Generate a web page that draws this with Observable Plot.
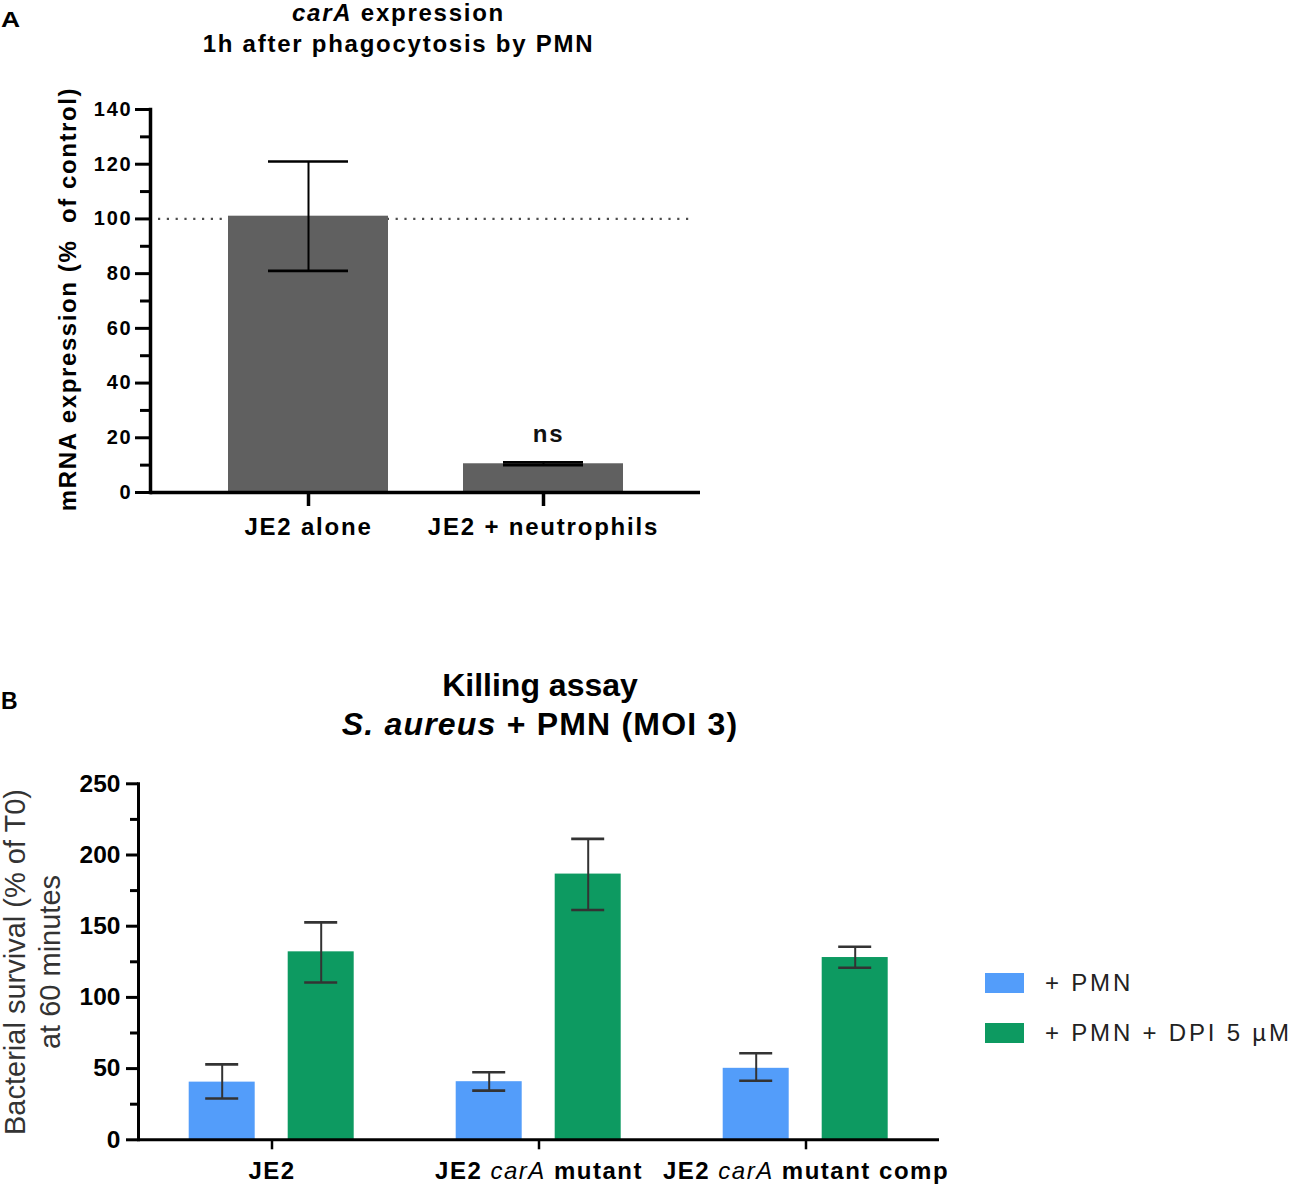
<!DOCTYPE html>
<html>
<head>
<meta charset="utf-8">
<script src="https://cdn.jsdelivr.net/npm/d3@7"></script>
<script src="https://cdn.jsdelivr.net/npm/@observablehq/plot@0.6"></script>
<style>
  body { margin: 0; background: #fff; }
  #root { position: relative; width: 1297px; height: 1185px; overflow: hidden;
          font-family: "Liberation Sans", Arial, sans-serif; color: #000; background: #fff; }
  .abs { position: absolute; }
  .panelA-title { left: 0; width: 797px; text-align: center; font-weight: bold; font-size: 24px;
                  line-height: 31px; letter-spacing: 1.75px; top: -2.8px; }
  .panelB-title { left: 190px; width: 700px; text-align: center; font-weight: bold; font-size: 32px;
                  line-height: 39px; top: 666.4px; }
  .panelB-title .l2 { letter-spacing: 1.2px; }
  .letter { font-weight: bold; }
  .ylabA { width: 500px; height: 28px; line-height: 28px; text-align: center; font-weight: bold;
           font-size: 24px; letter-spacing: 1.6px; transform: rotate(-90deg); white-space: nowrap; }
  .ylabB { width: 420px; height: 70px; line-height: 35px; text-align: center; font-size: 29px;
           color: #333; transform: rotate(-90deg); white-space: nowrap; }
  .legend-row { display: flex; align-items: center; height: 30px; }
  .sw { width: 39px; height: 20px; margin-right: 21px; }
  .legend-text { font-size: 24px; letter-spacing: 2.8px; color: #222; }
</style>
</head>
<body>
<div id="root"></div>
<script>
// ---------- Panel A data ----------
const aCategories = ["JE2 alone", "JE2 + neutrophils"];
const aMean = [101, 10.5];
const aLow = [81, 10];
const aHigh = [121, 11];
const aSig = ["", "ns"];
const aRefLine = [100];
const aMajorTicks = [0, 20, 40, 60, 80, 100, 120, 140];
const aMinorTicks = [10, 30, 50, 70, 90, 110, 130];

// ---------- Panel B data ----------
const bGroups = ["JE2", "JE2 carA mutant", "JE2 carA mutant comp"];
const bSeries = ["+ PMN", "+ PMN + DPI 5 µM"];
const bColors = ["#539dfa", "#0d9a61"];
const bPMN = [40.5, 40.8, 50.2];
const bPMNLow = [29, 34.5, 41.5];
const bPMNHigh = [53, 47.4, 60.8];
const bDPI = [132, 186.6, 128];
const bDPILow = [110.5, 161.4, 120.8];
const bDPIHigh = [152.7, 211.3, 135.6];
const bMajorTicks = [0, 50, 100, 150, 200, 250];
const bMinorTicks = [25, 75, 125, 175, 225];

const FONT = '"Liberation Sans", Arial, sans-serif';
const root = document.getElementById("root");

function addDiv(cls, html, styles) {
  const d = document.createElement("div");
  d.className = "abs " + cls;
  d.innerHTML = html;
  Object.assign(d.style, styles || {});
  root.appendChild(d);
  return d;
}

// ---------- Panel A ----------
const aData = aCategories.map((c, i) => ({category: c, mean: aMean[i], low: aLow[i], high: aHigh[i], sig: aSig[i]}));

const plotA = Plot.plot({
  width: 720,
  height: 480,
  marginTop: 29,
  marginBottom: 68,
  marginLeft: 150,
  marginRight: 20,
  style: {fontFamily: FONT, letterSpacing: "1.8px", color: "#000", background: "transparent", overflow: "visible"},
  x: {domain: aCategories, paddingInner: 0.32, paddingOuter: 0.33},
  y: {domain: [0, 140]},
  marks: [
    Plot.ruleY(aRefLine, {stroke: "#4d4d4d", strokeWidth: 2.2, strokeDasharray: "2.2,6.6", insetLeft: 8, insetRight: 10}),
    Plot.barY(aData, {x: "category", y: "mean", fill: "#606060"}),
    Plot.ruleX(aData, {x: "category", y1: "low", y2: "high", stroke: "#000", strokeWidth: 2}),
    Plot.tickY(aData, {x: "category", y: "low", stroke: "#000", strokeWidth: 2.6, insetLeft: 40, insetRight: 40}),
    Plot.tickY(aData, {x: "category", y: "high", stroke: "#000", strokeWidth: 2.6, insetLeft: 40, insetRight: 40}),
    Plot.text(aData.filter(d => d.sig), {x: "category", y: "high", text: "sig", dy: -20, dx: 5, lineAnchor: "bottom", fontSize: 24, fontWeight: "bold", fill: "#111"}),
    Plot.axisY(aMajorTicks, {tickSize: 15, tickPadding: 3, strokeWidth: 3, fontSize: 20, fontWeight: "bold", label: null}),
    Plot.axisY(aMinorTicks, {tickSize: 10, strokeWidth: 3, tickFormat: () => "", label: null}),
    Plot.axisX({tickSize: 14, tickPadding: 11.5, strokeWidth: 3.5, fontSize: 24, fontWeight: "bold", label: null}),
    Plot.ruleY([0], {stroke: "#000", strokeWidth: 3.5}),
    Plot.frame({anchor: "left", stroke: "#000", strokeWidth: 3.5})
  ]
});
plotA.style.position = "absolute";
plotA.style.left = "0px";
plotA.style.top = "80px";
root.appendChild(plotA);

addDiv("panelA-title", "<i>carA</i> expression<br>1h after phagocytosis by PMN");
addDiv("letter", "A", {left: "1px", top: "6.5px", fontSize: "22px", lineHeight: "26px", transform: "scaleX(1.2)", transformOrigin: "left center"});
addDiv("ylabA", "mRNA&nbsp;expression&nbsp;(%&nbsp;&nbsp;of&nbsp;control)", {left: (68.2 - 250) + "px", top: (299 - 14) + "px"});

// ---------- Panel B ----------
const bData = bGroups.flatMap((g, i) => [
  {group: g, series: bSeries[0], mean: bPMN[i], low: bPMNLow[i], high: bPMNHigh[i]},
  {group: g, series: bSeries[1], mean: bDPI[i], low: bDPILow[i], high: bDPIHigh[i]}
]);

const plotB = Plot.plot({
  width: 960,
  height: 425,
  marginTop: 23.3,
  marginBottom: 45.7,
  marginLeft: 137.3,
  marginRight: 20,
  style: {fontFamily: FONT, color: "#000", background: "transparent", overflow: "visible"},
  fx: {domain: bGroups, padding: 0, label: null},
  x: {domain: bSeries, paddingInner: 0.33, paddingOuter: 0.505, axis: null},
  y: {domain: [0, 250]},
  color: {domain: bSeries, range: bColors},
  marks: [
    Plot.barY(bData, {fx: "group", x: "series", y: "mean", fill: "series"}),
    Plot.ruleX(bData, {fx: "group", x: "series", y1: "low", y2: "high", stroke: "#333", strokeWidth: 2}),
    Plot.tickY(bData, {fx: "group", x: "series", y: "low", stroke: "#333", strokeWidth: 2.6, insetLeft: 16.5, insetRight: 16.5}),
    Plot.tickY(bData, {fx: "group", x: "series", y: "high", stroke: "#333", strokeWidth: 2.6, insetLeft: 16.5, insetRight: 16.5}),
    Plot.axisY(bMajorTicks, {tickSize: 12, tickPadding: 6, strokeWidth: 3, fontSize: 24.5, fontWeight: "bold", label: null}),
    Plot.axisY(bMinorTicks, {tickSize: 8, strokeWidth: 3, tickFormat: () => "", label: null}),
    Plot.axisFx({anchor: "bottom", tickSize: 10, tickPadding: 12, strokeWidth: 2.5, fontSize: 24, fontWeight: "bold", label: null}),
    Plot.ruleY([0], {stroke: "#000", strokeWidth: 3}),
    Plot.frame({anchor: "left", facetAnchor: "left", stroke: "#000", strokeWidth: 3})
  ]
});
// category tick labels: slight spacing, and italic gene name (kept as real text)
const groupSet = new Set(bGroups);
d3.select(plotB).selectAll("text").each(function () {
  const t = this.textContent;
  if (this.childElementCount !== 0) return;
  if (groupSet.has(t)) d3.select(this).attr("letter-spacing", "1.5px");
  if (t.includes("carA")) {
    const parts = t.split("carA");
    const sel = d3.select(this);
    sel.text(null);
    parts.forEach((p, i) => {
      if (i > 0) sel.append("tspan").attr("font-style", "italic").attr("font-weight", "normal").text("carA");
      if (p) sel.append("tspan").text(p);
    });
  }
});
plotB.style.position = "absolute";
plotB.style.left = "0px";
plotB.style.top = "760px";
root.appendChild(plotB);

addDiv("panelB-title", "Killing assay<br><span class=\"l2\"><i>S. aureus</i> + PMN (MOI 3)</span>");
addDiv("letter", "B", {left: "1px", top: "688px", fontSize: "23px", lineHeight: "27px"});
addDiv("ylabB", "Bacterial survival (% of T0)<br>at 60 minutes", {left: (32.5 - 210) + "px", top: (962 - 35) + "px"});

// legend built from the series
const leg = addDiv("legend", "", {left: "985px", top: "967.5px"});
bSeries.forEach((s, i) => {
  const row = document.createElement("div");
  row.className = "legend-row";
  row.style.marginBottom = i === 0 ? "20px" : "0";
  row.innerHTML = `<div class="sw" style="background:${bColors[i]}"></div><div class="legend-text">${s}</div>`;
  leg.appendChild(row);
});
</script>
</body>
</html>
